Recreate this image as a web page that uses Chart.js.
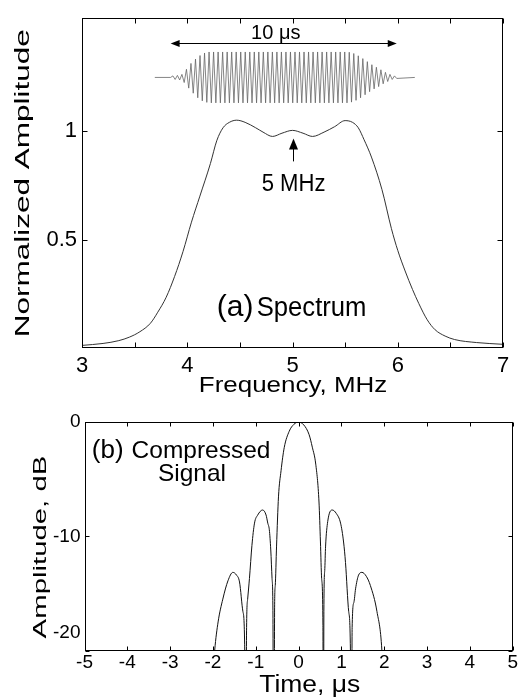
<!DOCTYPE html>
<html>
<head>
<meta charset="utf-8">
<script src="https://cdn.jsdelivr.net/npm/chart.js@4.4.1/dist/chart.umd.min.js"></script>
<style>
  body { margin: 0; background: #fff; }
  #wrap { position: relative; width: 519px; height: 698px; overflow: hidden; }
  canvas { position: absolute; left: 0; }
  #specChart { top: 0; }
  #pulseChart { top: 400px; }
</style>
</head>
<body>
<div id="wrap">
  <canvas id="specChart" width="519" height="400"></canvas>
  <canvas id="pulseChart" width="519" height="298"></canvas>
</div>
<script>
// (a) spectrum, frequency in MHz
const freqMHz = [3.0, 3.2, 3.35, 3.45, 3.55, 3.65, 3.72, 3.8, 3.88, 3.96, 4.04, 4.12, 4.22, 4.28, 4.34, 4.4, 4.47, 4.55, 4.65, 4.72, 4.81, 4.9, 5.0,
                 5.1, 5.19, 5.3, 5.4, 5.5, 5.57, 5.625, 5.68, 5.75, 5.85, 5.94, 6.0, 6.07, 6.14, 6.2, 6.28, 6.355, 6.45, 6.54, 6.75, 7.0];
const specAmp = [0.012, 0.021, 0.034, 0.05, 0.075, 0.114, 0.165, 0.234, 0.33, 0.445, 0.58, 0.70, 0.85, 0.955, 1.015, 1.04, 1.05, 1.04, 1.015, 0.995, 0.975, 0.99, 1.003,
                 0.99, 0.975, 0.995, 1.02, 1.048, 1.04, 1.015, 0.96, 0.88, 0.73, 0.55, 0.45, 0.355, 0.27, 0.205, 0.13, 0.084, 0.055, 0.039, 0.025, 0.017];
const freqTicks = [3, 3.5, 4, 4.5, 5, 5.5, 6, 6.5, 7];
const specYTicks = [0.5, 1];

// inset: transmitted chirp burst, time in microseconds
const burstTime = [-5.7,
  -5.0, -4.9, -4.8, -4.7, -4.6, -4.5, -4.4, -4.3, -4.2, -4.1,
  -4.0, -3.9, -3.8, -3.7, -3.6, -3.5, -3.4, -3.3, -3.2, -3.1,
  -3.0, -2.9, -2.8, -2.7, -2.6, -2.5, -2.4, -2.3, -2.2, -2.1,
  -2.0, -1.9, -1.8, -1.7, -1.6, -1.5, -1.4, -1.3, -1.2, -1.1,
  -1.0, -0.9, -0.8, -0.7, -0.6, -0.5, -0.4, -0.3, -0.2, -0.1,
  0.0, 0.1, 0.2, 0.3, 0.4, 0.5, 0.6, 0.7, 0.8, 0.9,
  1.0, 1.1, 1.2, 1.3, 1.4, 1.5, 1.6, 1.7, 1.8, 1.9,
  2.0, 2.1, 2.2, 2.3, 2.4, 2.5, 2.6, 2.7, 2.8, 2.9,
  3.0, 3.1, 3.2, 3.3, 3.4, 3.5, 3.6, 3.7, 3.8, 3.9,
  4.0, 4.1, 4.2, 4.3, 4.4, 4.5, 4.6, 4.7, 4.8, 4.9,
  5.0, 5.8];
const burstAmp = [0,
  0, .06, -.08, .08, -.1, .12, -.2, .32, -.42, .55,
  -.62, .72, -.8, .86, -.92, .96, -.98, 1, -1, 1,
  -1, 1, -1, 1, -1, 1, -1, 1, -1, 1,
  -1, 1, -1, 1, -1, 1, -1, 1, -1, 1,
  -1, 1, -1, 1, -1, 1, -1, 1, -1, 1,
  -1, 1, -1, 1, -1, 1, -1, 1, -1, 1,
  -1, 1, -1, 1, -1, 1, -1, 1, -1, 1,
  -1, 1, -1, 1, -1, 1, -1, 1, -1, .99,
  -.97, .94, -.9, .85, -.8, .74, -.68, .62, -.56, .5,
  -.45, .4, -.36, .3, -.25, .2, -.16, .12, -.08, .06,
  -.04, 0];

// (b) compressed signal
const timeUs = [-2.05, -1.96, -1.88, -1.77, -1.65, -1.536, -1.45, -1.38, -1.3, -1.26, -1.24, -1.215, -1.19, -1.148, -1.09, -1.03, -0.955, -0.84,
                -0.76, -0.72, -0.684, -0.65, -0.62, -0.6, -0.58, -0.56, -0.545, -0.515, -0.47, -0.41, -0.336, -0.22, -0.11, 0,
                0.12, 0.244, 0.32, 0.4, 0.476, 0.51, 0.538, 0.568, 0.58, 0.59, 0.61, 0.63, 0.68, 0.785, 0.88, 0.98, 1.05, 1.095,
                1.17, 1.21, 1.23, 1.25, 1.29, 1.33, 1.4, 1.48, 1.58, 1.675, 1.83, 1.945, 2.0];
const compDb = [-25, -20, -17.5, -15.5, -13.9, -13.16, -13.4, -14.0, -16.6, -19.5, -40, -18, -15.5, -13.7, -10.8, -8.85, -8.14, -7.7,
                -8.14, -8.85, -9.43, -11.2, -13.7, -16.5, -40, -16, -14.3, -10.86, -6.55, -4.26, -2.24, -0.81, -0.2, 0,
                -0.25, -1.09, -2.2, -3.68, -7.0, -10.5, -13.7, -17.8, -40, -16.6, -13, -10.86, -8.7, -7.7, -8.0, -8.85, -10.5, -12.3,
                -16.6, -20, -40, -18, -15.8, -14.6, -13.4, -13.16, -13.5, -14.3, -16.6, -20, -25];
const timeTicks = [-5, -4, -3, -2, -1, 0, 1, 2, 3, 4, 5];
const dbTicks = [-20, -15, -10, -5, 0];
const dbLabels = [-20, -10, 0];

const FONT = '"Liberation Sans", Arial, Helvetica, sans-serif';

function pts(xs, ys) {
  return xs.map((x, i) => ({ x: x, y: ys[i] }));
}

function text(ctx, str, x, y, size, sx, rot, align) {
  ctx.save();
  ctx.translate(x, y);
  if (rot) ctx.rotate(rot);
  ctx.scale(sx, 1);
  ctx.font = size + 'px ' + FONT;
  ctx.fillStyle = '#000';
  ctx.textAlign = align || 'center';
  ctx.textBaseline = 'alphabetic';
  ctx.fillText(str, 0, 0);
  ctx.restore();
}

function head(ctx, x, y, dx, dy, len, half) {
  // filled arrow head pointing along (dx, dy)
  ctx.beginPath();
  ctx.moveTo(x, y);
  ctx.lineTo(x - dx * len - dy * half, y - dy * len + dx * half);
  ctx.lineTo(x - dx * len + dy * half, y - dy * len - dx * half);
  ctx.closePath();
  ctx.fill();
}

function frameAndTicks(chart, len) {
  const ctx = chart.ctx, ca = chart.chartArea;
  const xs = chart.scales.x, ys = chart.scales.y;
  ctx.save();
  ctx.strokeStyle = '#000';
  ctx.lineWidth = 1;
  const l = Math.round(ca.left) + 0.5, r = Math.round(ca.right) - 0.5;
  const t = Math.round(ca.top) + 0.5, b = Math.round(ca.bottom) - 0.5;
  ctx.strokeRect(l, t, r - l, b - t);
  ctx.beginPath();
  xs.ticks.forEach(tk => {
    const px = Math.round(xs.getPixelForValue(tk.value)) + 0.5;
    ctx.moveTo(px, b); ctx.lineTo(px, b - len);
    ctx.moveTo(px, t); ctx.lineTo(px, t + len);
  });
  ys.ticks.forEach(tk => {
    const py = Math.round(ys.getPixelForValue(tk.value)) + 0.5;
    ctx.moveTo(l, py); ctx.lineTo(l + len, py);
    ctx.moveTo(r, py); ctx.lineTo(r - len, py);
  });
  ctx.stroke();
  ctx.restore();
}

const specDecor = {
  id: 'specDecor',
  afterDraw(chart) {
    const ctx = chart.ctx, ca = chart.chartArea;
    const x = chart.scales.x, y = chart.scales.y, xb = chart.scales.xb, yb = chart.scales.yb;
    frameAndTicks(chart, 5);
    ctx.save();
    ctx.strokeStyle = '#000';
    ctx.fillStyle = '#000';
    ctx.lineWidth = 1;
    // 10 us span arrow
    const ay = Math.round(yb.getPixelForValue(1.34)) + 0.5;
    const a0 = xb.getPixelForValue(-5), a1 = xb.getPixelForValue(5);
    ctx.beginPath(); ctx.moveTo(a0 + 4, ay); ctx.lineTo(a1 - 4, ay); ctx.stroke();
    head(ctx, a0, ay, -1, 0, 9, 3.5);
    head(ctx, a1, ay, 1, 0, 9, 3.5);
    text(ctx, '10 \u03bcs', xb.getPixelForValue(-0.35), yb.getPixelForValue(1.52), 20, 1);
    // 5 MHz marker
    const mx = Math.round(x.getPixelForValue(5)) + 0.5;
    const top = y.getPixelForValue(0.965);
    ctx.beginPath(); ctx.moveTo(mx, y.getPixelForValue(0.86)); ctx.lineTo(mx, top + 8); ctx.stroke();
    head(ctx, mx, top, 0, -1, 11, 4.5);
    text(ctx, '5 MHz', x.getPixelForValue(5.01), y.getPixelForValue(0.725), 23, 0.96);
    text(ctx, '(a)', x.getPixelForValue(4.28), y.getPixelForValue(0.149), 30, 1, 0, 'left');
    text(ctx, 'Spectrum', x.getPixelForValue(4.66), y.getPixelForValue(0.149), 27, 0.95, 0, 'left');
    // axis titles
    text(ctx, 'Frequency, MHz', x.getPixelForValue(5.005), ca.bottom + 44, 22, 1.18);
    text(ctx, 'Normalized Amplitude', 29.2, ca.top + 165, 19.5, 1.615, -Math.PI / 2);
    ctx.restore();
  }
};

const pulseDecor = {
  id: 'pulseDecor',
  afterDraw(chart) {
    const ctx = chart.ctx, ca = chart.chartArea;
    const x = chart.scales.x, y = chart.scales.y;
    frameAndTicks(chart, 4);
    ctx.save();
    text(ctx, '(b)', x.getPixelForValue(-4.83), y.getPixelForValue(-3.15), 26, 1, 0, 'left');
    text(ctx, 'Compressed', x.getPixelForValue(-3.9), y.getPixelForValue(-3.15), 24, 1.02, 0, 'left');
    text(ctx, 'Signal', x.getPixelForValue(-2.49), y.getPixelForValue(-5.15), 24, 1.02);
    text(ctx, 'Time, \u03bcs', x.getPixelForValue(0.26), ca.bottom + 41, 23, 1.15);
    text(ctx, 'Amplitude, dB', 46.3, ca.top + 125, 18, 1.63, -Math.PI / 2);
    ctx.restore();
  }
};

function tickFont(size, lh) {
  return { size: size, family: FONT, lineHeight: lh || 1.2 };
}

window.onload = function() {
  new Chart(document.getElementById('specChart'), {
    type: 'line',
    data: {
      datasets: [{
        data: pts(freqMHz, specAmp),
        xAxisID: 'x', yAxisID: 'y',
        borderColor: '#333', borderWidth: 1,
        pointRadius: 0, cubicInterpolationMode: 'monotone'
      }, {
        data: pts(burstTime, burstAmp),
        xAxisID: 'xb', yAxisID: 'yb',
        borderColor: '#666', borderWidth: 0.8,
        pointRadius: 0, tension: 0
      }]
    },
    options: {
      responsive: false,
      animation: false,
      devicePixelRatio: 1,
      layout: { padding: { top: 11, right: 16, left: 0, bottom: 0 } },
      plugins: { legend: { display: false }, tooltip: { enabled: false } },
      scales: {
        x: {
          type: 'linear', min: 3, max: 7,
          afterBuildTicks: s => { s.ticks = freqTicks.map(v => ({ value: v })); },
          afterFit: s => { s.height = 52; },
          ticks: {
            callback: v => Number.isInteger(v) ? String(v) : '',
            autoSkip: false, maxRotation: 0, padding: 5,
            color: '#000', font: tickFont(22)
          },
          grid: { display: false, drawTicks: false },
          border: { display: false }
        },
        y: {
          type: 'linear', min: 0, max: 1.52,
          afterBuildTicks: s => { s.ticks = specYTicks.map(v => ({ value: v })); },
          afterFit: s => { s.width = 82; },
          ticks: { callback: v => String(v), padding: 5, color: '#000', font: tickFont(22) },
          grid: { display: false, drawTicks: false },
          border: { display: false }
        },
        xb: { type: 'linear', display: false, min: -8.92, max: 9.70 },
        yb: { type: 'linear', display: false, min: -10.63, max: 2.327 }
      }
    },
    plugins: [specDecor]
  });

  new Chart(document.getElementById('pulseChart'), {
    type: 'line',
    data: {
      datasets: [{
        data: pts(timeUs, compDb),
        borderColor: '#111', borderWidth: 1,
        pointRadius: 0, cubicInterpolationMode: 'monotone'
      }]
    },
    options: {
      responsive: false,
      animation: false,
      devicePixelRatio: 1,
      layout: { padding: { top: 16.5, right: 4, left: 0, bottom: 0 } },
      plugins: { legend: { display: false }, tooltip: { enabled: false } },
      scales: {
        x: {
          type: 'linear', min: -5, max: 5,
          afterBuildTicks: s => { s.ticks = timeTicks.map(v => ({ value: v })); },
          afterFit: s => { s.height = 47.5; },
          ticks: { callback: v => String(v), autoSkip: false, maxRotation: 0, padding: 1, color: '#000', font: tickFont(19) },
          grid: { display: false, drawTicks: false },
          border: { display: false }
        },
        y: {
          type: 'linear', min: -20, max: 0,
          afterBuildTicks: s => { s.ticks = dbTicks.map(v => ({ value: v })); },
          afterFit: s => { s.width = 84.5; },
          ticks: {
            callback: v => dbLabels.includes(v) ? (v === -20 ? ['-20', ''] : String(v)) : '',
            padding: 4, color: '#000', font: tickFont(19, 1.9)
          },
          grid: { display: false, drawTicks: false },
          border: { display: false }
        }
      }
    },
    plugins: [pulseDecor]
  });
};
</script>
</body>
</html>
